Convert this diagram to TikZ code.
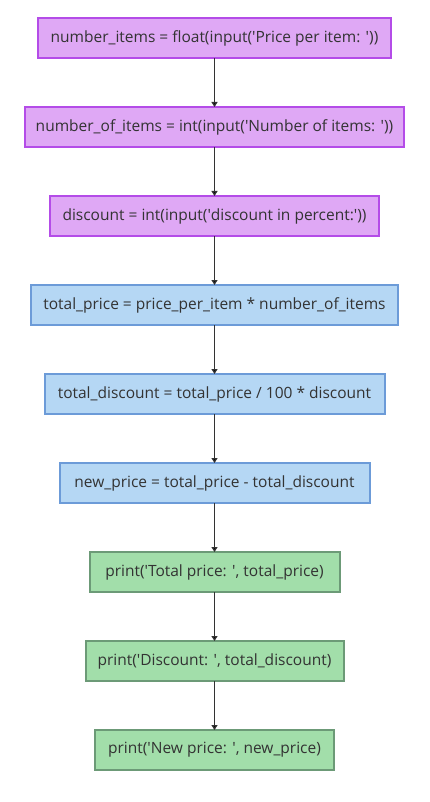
\documentclass[tikz,border=0pt]{standalone}
\usepackage{fontspec}
\setmainfont{Open Sans}
\usetikzlibrary{arrows.meta,positioning}
\definecolor{inFill}{HTML}{DFA8F5}
\definecolor{inLine}{HTML}{B44CE8}
\definecolor{calcFill}{HTML}{B5D7F4}
\definecolor{calcLine}{HTML}{6C9BD8}
\definecolor{outFill}{HTML}{A2DEAA}
\definecolor{outLine}{HTML}{6C9A77}
\definecolor{flowColor}{HTML}{333333}
\newcommand{\sq}{\textquotesingle}

\begin{document}
\begin{tikzpicture}[->,>={Triangle[length=5pt,width=6pt]},node distance=49pt,
		box/.style={draw, line width=2pt, minimum height=40pt, inner sep=0pt,
			text=flowColor, font=\fontsize{15.5}{18}\selectfont, outer sep=0},
		inbox/.style={box, fill=inFill, draw=inLine},
		calcbox/.style={box, fill=calcFill, draw=calcLine},
		outbox/.style={box, fill=outFill, draw=outLine},
		flow/.style={draw=flowColor, line width=1.2pt}]
	\useasboundingbox (0,0) rectangle (429pt,-802pt);
	\node[inbox, minimum width=353pt] (n1) at (214.5pt,-38pt) {number\_items = float(input(\sq Price per item: \sq))};
	\node[inbox, minimum width=379pt, below=of n1] (n2) {number\_of\_items = int(input(\sq Number of items: \sq))};
	\node[inbox, minimum width=329pt, below=of n2] (n3) {discount = int(input(\sq discount in percent:\sq))};
	\node[calcbox, minimum width=367pt, below=of n3] (n4) {total\_price = price\_per\_item * number\_of\_items};
	\node[calcbox, minimum width=340pt, below=of n4] (n5) {total\_discount = total\_price / 100 * discount};
	\node[calcbox, minimum width=310pt, below=of n5] (n6) {new\_price = total\_price - total\_discount};
	\node[outbox, minimum width=250pt, below=of n6] (n7) {print(\sq Total price: \sq, total\_price)};
	\node[outbox, minimum width=258pt, below=of n7] (n8) {print(\sq Discount: \sq, total\_discount)};
	\node[outbox, minimum width=239pt, below=of n8] (n9) {print(\sq New price: \sq, new\_price)};
	
	\foreach \a/\b in {n1/n2,n2/n3,n3/n4,n4/n5,n5/n6,n6/n7,n7/n8,n8/n9}
		\path[flow] (\a) edge (\b);
\end{tikzpicture}
\end{document}
